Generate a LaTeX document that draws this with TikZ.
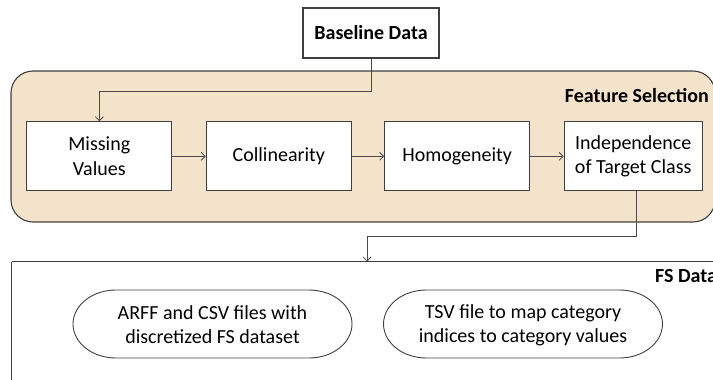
\documentclass[tikz,border=0pt]{standalone}
\usepackage{fontspec}
\setmainfont{Carlito}
\usetikzlibrary{arrows.meta}
\definecolor{fsfill}{HTML}{F3E3CA}
\definecolor{edge}{HTML}{3F3F3F}
\definecolor{wire}{HTML}{4A4A4A}
\tikzset{
  stepbox/.style={draw=edge, line width=1.1pt, fill=white, minimum width=145pt,
    minimum height=69pt, align=center, inner sep=0pt,
    font=\fontsize{20}{24.5}\selectfont},
  conn/.style={draw=wire, line width=0.9pt},
  arr/.style={conn, -{Straight Barb[length=4pt,width=8pt,line width=0.8pt]}},
  txt/.style={align=center, inner sep=0pt, font=\fontsize{20}{24}\selectfont},
  group/.style={font=\fontsize{20}{24}\selectfont\bfseries, inner sep=0pt}
}
\begin{document}
\begin{tikzpicture}[x=1pt,y=-1pt]
\useasboundingbox (0,0) rectangle (713,380);
\clip (0,0) rectangle (713,380);

% Feature selection container
\draw[draw=edge, line width=1.1pt, fill=fsfill, rounded corners=22pt]
  (11,71) rectangle (715,222);
\node[group, anchor=east] (fslabel) at (709,96) {Feature Selection};

% FS data container (runs off the page)
\draw[draw=edge, line width=1.1pt] (11.5,261.5) -- (740,261.5)
  (11.5,261.5) -- (11.5,400);
\node[group, anchor=base west] (fsdlabel) at (655,282) {FS Data};
\coordinate (fsin) at (367,261.5);

% Input
\node[stepbox, minimum width=136pt, minimum height=50pt,
  font=\fontsize{20}{24}\selectfont\bfseries] (base) at (371,33) {Baseline Data};

% Feature selection steps
\node[stepbox] (mv)  at (99.3,156.3)  {Missing\\Values};
\node[stepbox] (col) at (278.8,156.3) {Collinearity};
\node[stepbox] (hom) at (457.2,156.3) {Homogeneity};
\node[stepbox, minimum width=138pt] (ind) at (633.2,156.3) {Independence\\of Target Class};

% Output files
\foreach \cx in {212.5, 523}{
  \draw[draw=edge, line width=0.9pt]
    (\cx-96.5,290) -- (\cx+96.5,290)
    arc[start angle=-90, end angle=90, x radius=43, y radius=34]
    -- (\cx-96.5,358)
    arc[start angle=90, end angle=270, x radius=43, y radius=34] -- cycle;
}
\node[txt] (arff) at (212.5,325) {ARFF and CSV files with\\discretized FS dataset};
\node[txt] (tsv)  at (523,325)   {TSV file to map category\\indices to category values};

% Connectors
\draw[arr] (base.south) -- ++(0,32.7) -| (mv.north);
\draw[arr] (mv) -- (col);
\draw[arr] (col) -- (hom);
\draw[arr] (hom) -- (ind);
\draw[arr] (ind.south -| 636,0) -- (636,236) -| (fsin);
\end{tikzpicture}
\end{document}
